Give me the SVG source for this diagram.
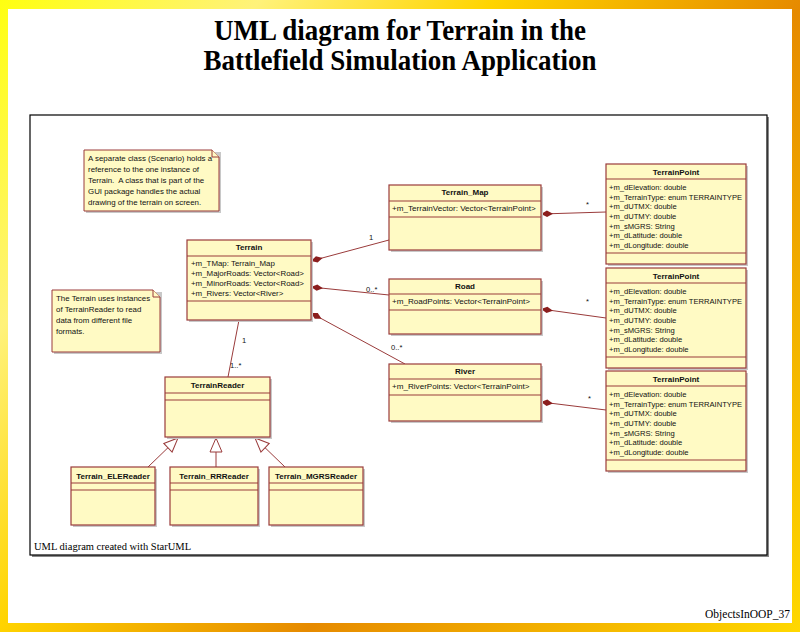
<svg xmlns="http://www.w3.org/2000/svg" width="800" height="632" viewBox="0 0 800 632">
<defs>
<linearGradient id="bg" x1="0" y1="0" x2="800" y2="632" gradientUnits="userSpaceOnUse">
<stop offset="0" stop-color="#FFFF10"/>
<stop offset="0.2" stop-color="#FFF27A"/>
<stop offset="0.38" stop-color="#FFD400"/>
<stop offset="0.62" stop-color="#E68A00"/>
<stop offset="0.8" stop-color="#F2B000"/>
<stop offset="1" stop-color="#FFD800"/>
</linearGradient>
<marker id="dia" markerWidth="14" markerHeight="8" refX="0" refY="4" orient="auto" markerUnits="userSpaceOnUse" viewBox="0 0 14 8">
<path d="M0,4 L6,0.8 L12,4 L6,7.2 Z" fill="#8B1E1E"/>
</marker>
<marker id="tri" markerWidth="16" markerHeight="14" refX="15" refY="7" orient="auto" markerUnits="userSpaceOnUse" viewBox="0 0 16 14">
<path d="M1,1 L15,7 L1,13 Z" fill="#fff" stroke="#9A3B3B" stroke-width="1"/>
</marker>
</defs>
<style>
.box{fill:#FFFAC4;stroke:#9A3B3B;stroke-width:1.2}
.shadow{fill:#C8C8C8}
.sep{stroke:#9A3B3B;stroke-width:1.2}
.note{fill:#FFFAC4;stroke:#9A3B3B;stroke-width:1}
.t{font-family:"Liberation Sans",Arial,sans-serif;font-size:7.6px;fill:#111}
.tn{font-family:"Liberation Sans",Arial,sans-serif;font-size:7.9px;fill:#111}
.tm{font-family:"Liberation Sans",Arial,sans-serif;font-size:8.1px;fill:#111}
.h{font-family:"Liberation Sans",Arial,sans-serif;font-size:8px;font-weight:bold;fill:#111;text-anchor:middle}
.c{fill:none;stroke:#9A3B3B;stroke-width:1}
.lbl{font-family:"Liberation Sans",Arial,sans-serif;font-size:7.6px;fill:#111}
.title{font-family:"Liberation Serif","Times New Roman",serif;font-size:27px;font-weight:bold;text-anchor:middle;fill:#000}
.cap{font-family:"Liberation Serif","Times New Roman",serif;fill:#000}
</style>
<rect x="0" y="0" width="800" height="632" fill="url(#bg)"/>
<rect x="8" y="9" width="784" height="614" fill="#fff"/>
<g id="title">
<text class="title" transform="translate(400,40) scale(1,1.08)">UML diagram for Terrain in the</text>
<text class="title" transform="translate(400,70) scale(1,1.08)">Battlefield Simulation Application</text>
</g>
<g id="frame">
<rect x="32" y="117" width="737" height="440" fill="#888"/>
<rect x="30" y="115" width="737" height="440" fill="#fff" stroke="#000" stroke-width="1.2"/>
<text class="cap" x="34" y="550" font-size="10.5">UML diagram created with StarUML</text>
</g>
<text class="cap" x="790" y="618" font-size="11.5" text-anchor="end">ObjectsInOOP_37</text>

<g id="connectors">
<path class="c" d="M311,261 L389,240" marker-start="url(#dia)"/>
<path class="c" d="M311,287 L389,295" marker-start="url(#dia)"/>
<path class="c" d="M311,313 L405,364" marker-start="url(#dia)"/>
<path class="c" d="M541,214 L606,212" marker-start="url(#dia)"/>
<path class="c" d="M541,309 L606,318" marker-start="url(#dia)"/>
<path class="c" d="M541,402 L606,410" marker-start="url(#dia)"/>
<path class="c" d="M239,320 L228,377"/>
<path class="c" d="M148,467 L178,438" marker-end="url(#tri)"/>
<path class="c" d="M216,467 L216,438" marker-end="url(#tri)"/>
<path class="c" d="M285,467 L255,438" marker-end="url(#tri)"/>
<text class="lbl" x="369" y="240">1</text>
<text class="lbl" x="366" y="292">0..*</text>
<text class="lbl" x="391" y="350">0..*</text>
<text class="lbl" x="586" y="207">*</text>
<text class="lbl" x="586" y="304">*</text>
<text class="lbl" x="588" y="401">*</text>
<text class="lbl" x="242" y="343">1</text>
<text class="lbl" x="230" y="368">1..*</text>
</g>

<g id="note1">
<path class="shadow" d="M86,152 H221 V213 H86 Z"/>
<path class="note" d="M84,150 H212 L219,157 V211 H84 Z"/>
<path class="note" d="M212,150 V157 H219" fill="none"/>
<text class="tn" x="88" y="161" style="white-space:pre">A separate class (Scenario) holds a</text>
<text class="tn" x="88" y="172">reference to the one instance of</text>
<text class="tn" x="88" y="183" style="white-space:pre">Terrain.  A class that is part of the</text>
<text class="tn" x="88" y="194">GUI package handles the actual</text>
<text class="tn" x="88" y="205">drawing of the terrain on screen.</text>
</g>

<g id="note2">
<path class="shadow" d="M54,292 H162 V354 H54 Z"/>
<path class="note" d="M52,290 H153 L160,297 V352 H52 Z"/>
<path class="note" d="M153,290 V297 H160" fill="none"/>
<text class="tn" x="56" y="301">The Terrain uses instances</text>
<text class="tn" x="56" y="312">of TerrainReader to read</text>
<text class="tn" x="56" y="323">data from different file</text>
<text class="tn" x="56" y="334">formats.</text>
</g>

<g id="Terrain">
<rect class="shadow" x="189" y="242" width="124" height="80"/>
<rect class="box" x="187" y="240" width="124" height="80"/>
<line class="sep" x1="187" y1="256" x2="311" y2="256"/>
<line class="sep" x1="187" y1="301" x2="311" y2="301"/>
<text class="h" x="249" y="250">Terrain</text>
<text class="tn" x="191" y="266">+m_TMap: Terrain_Map</text>
<text class="tn" x="191" y="276">+m_MajorRoads: Vector&lt;Road&gt;</text>
<text class="tn" x="191" y="286">+m_MinorRoads: Vector&lt;Road&gt;</text>
<text class="tn" x="191" y="296">+m_Rivers: Vector&lt;River&gt;</text>
</g>

<g id="Terrain_Map">
<rect class="shadow" x="391" y="187" width="152" height="65"/>
<rect class="box" x="389" y="185" width="152" height="65"/>
<line class="sep" x1="389" y1="201" x2="541" y2="201"/>
<line class="sep" x1="389" y1="217" x2="541" y2="217"/>
<text class="h" x="465" y="195">Terrain_Map</text>
<text class="tm" x="392" y="211">+m_TerrainVector: Vector&lt;TerrainPoint&gt;</text>
</g>

<g id="Road">
<rect class="shadow" x="391" y="281" width="152" height="55"/>
<rect class="box" x="389" y="279" width="152" height="55"/>
<line class="sep" x1="389" y1="294" x2="541" y2="294"/>
<line class="sep" x1="389" y1="310" x2="541" y2="310"/>
<text class="h" x="465" y="289">Road</text>
<text class="tm" x="392" y="304">+m_RoadPoints: Vector&lt;TerrainPoint&gt;</text>
</g>

<g id="River">
<rect class="shadow" x="391" y="366" width="152" height="57"/>
<rect class="box" x="389" y="364" width="152" height="57"/>
<line class="sep" x1="389" y1="379" x2="541" y2="379"/>
<line class="sep" x1="389" y1="395" x2="541" y2="395"/>
<text class="h" x="465" y="374">River</text>
<text class="tm" x="392" y="389">+m_RiverPoints: Vector&lt;TerrainPoint&gt;</text>
</g>

<g id="TerrainPoint1">
<rect class="shadow" x="608" y="166" width="140" height="100"/>
<rect class="box" x="606" y="164" width="140" height="100"/>
<line class="sep" x1="606" y1="179" x2="746" y2="179"/>
<line class="sep" x1="606" y1="253" x2="746" y2="253"/>
<text class="h" x="676" y="174.5">TerrainPoint</text>
<text class="t" x="609" y="190">+m_dElevation: double</text>
<text class="t" x="609" y="199.7">+m_TerrainType: enum TERRAINTYPE</text>
<text class="t" x="609" y="209.3">+m_dUTMX: double</text>
<text class="t" x="609" y="219">+m_dUTMY: double</text>
<text class="t" x="609" y="228.7">+m_sMGRS: String</text>
<text class="t" x="609" y="238.3">+m_dLatitude: double</text>
<text class="t" x="609" y="248">+m_dLongitude: double</text>
</g>

<g id="TerrainPoint2" transform="translate(0,104)">
<rect class="shadow" x="608" y="166" width="140" height="100"/>
<rect class="box" x="606" y="164" width="140" height="100"/>
<line class="sep" x1="606" y1="179" x2="746" y2="179"/>
<line class="sep" x1="606" y1="253" x2="746" y2="253"/>
<text class="h" x="676" y="174.5">TerrainPoint</text>
<text class="t" x="609" y="190">+m_dElevation: double</text>
<text class="t" x="609" y="199.7">+m_TerrainType: enum TERRAINTYPE</text>
<text class="t" x="609" y="209.3">+m_dUTMX: double</text>
<text class="t" x="609" y="219">+m_dUTMY: double</text>
<text class="t" x="609" y="228.7">+m_sMGRS: String</text>
<text class="t" x="609" y="238.3">+m_dLatitude: double</text>
<text class="t" x="609" y="248">+m_dLongitude: double</text>
</g>

<g id="TerrainPoint3" transform="translate(0,207)">
<rect class="shadow" x="608" y="166" width="140" height="100"/>
<rect class="box" x="606" y="164" width="140" height="100"/>
<line class="sep" x1="606" y1="179" x2="746" y2="179"/>
<line class="sep" x1="606" y1="253" x2="746" y2="253"/>
<text class="h" x="676" y="174.5">TerrainPoint</text>
<text class="t" x="609" y="190">+m_dElevation: double</text>
<text class="t" x="609" y="199.7">+m_TerrainType: enum TERRAINTYPE</text>
<text class="t" x="609" y="209.3">+m_dUTMX: double</text>
<text class="t" x="609" y="219">+m_dUTMY: double</text>
<text class="t" x="609" y="228.7">+m_sMGRS: String</text>
<text class="t" x="609" y="238.3">+m_dLatitude: double</text>
<text class="t" x="609" y="248">+m_dLongitude: double</text>
</g>

<g id="TerrainReader">
<rect class="shadow" x="167" y="379" width="105" height="60"/>
<rect class="box" x="165" y="377" width="105" height="60"/>
<line class="sep" x1="165" y1="393" x2="270" y2="393"/>
<line class="sep" x1="165" y1="400" x2="270" y2="400"/>
<text class="h" x="217.5" y="388">TerrainReader</text>
</g>

<g id="Terrain_ELEReader">
<rect class="shadow" x="73" y="469" width="84" height="58"/>
<rect class="box" x="71" y="467" width="84" height="58"/>
<line class="sep" x1="71" y1="483" x2="155" y2="483"/>
<line class="sep" x1="71" y1="490" x2="155" y2="490"/>
<text class="h" x="113" y="479">Terrain_ELEReader</text>
</g>

<g id="Terrain_RRReader">
<rect class="shadow" x="172" y="469" width="88" height="58"/>
<rect class="box" x="170" y="467" width="88" height="58"/>
<line class="sep" x1="170" y1="483" x2="258" y2="483"/>
<line class="sep" x1="170" y1="490" x2="258" y2="490"/>
<text class="h" x="214" y="479">Terrain_RRReader</text>
</g>

<g id="Terrain_MGRSReader">
<rect class="shadow" x="271" y="469" width="94" height="58"/>
<rect class="box" x="269" y="467" width="94" height="58"/>
<line class="sep" x1="269" y1="483" x2="363" y2="483"/>
<line class="sep" x1="269" y1="490" x2="363" y2="490"/>
<text class="h" x="316" y="479">Terrain_MGRSReader</text>
</g>
</svg>
